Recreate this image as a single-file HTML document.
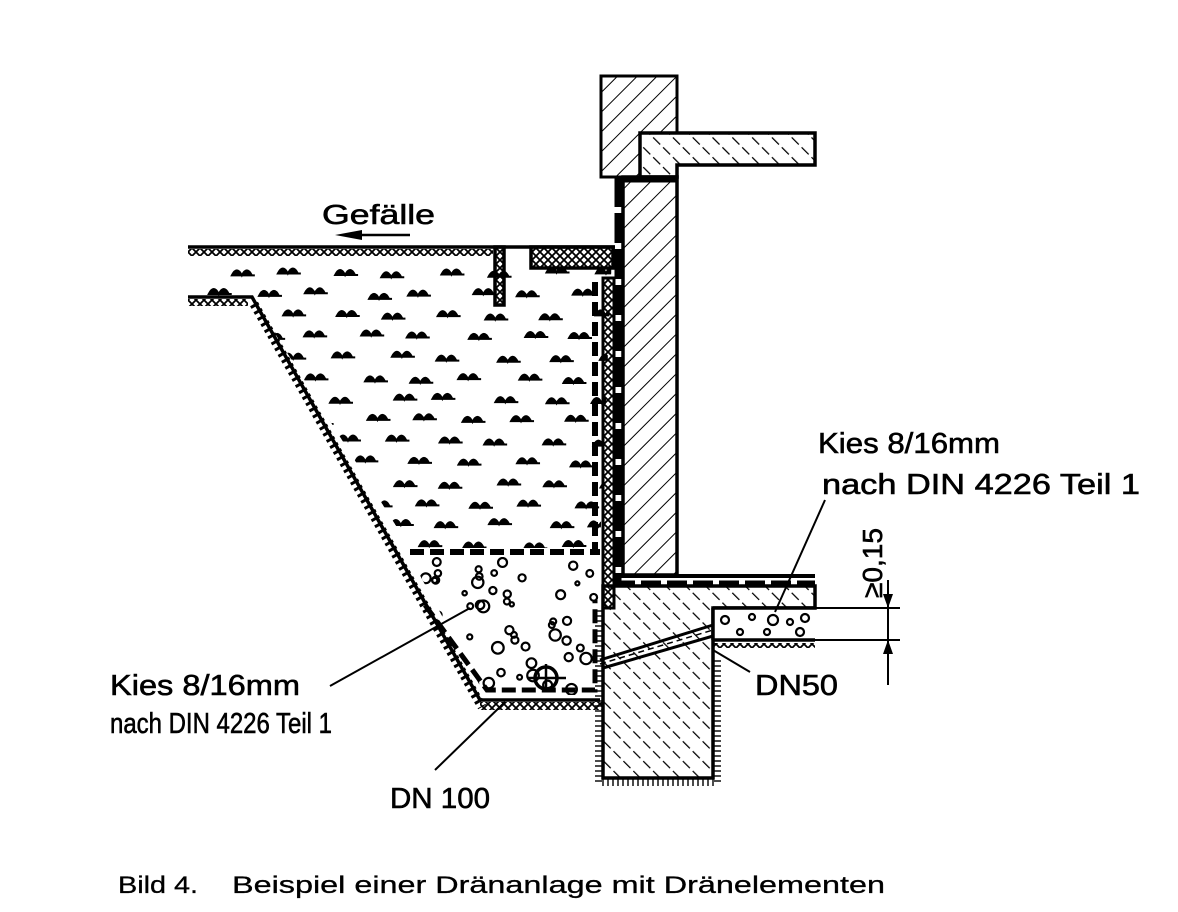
<!DOCTYPE html>
<html><head><meta charset="utf-8"><style>
html,body{margin:0;padding:0;background:#fff;}
svg{display:block}
text{font-family:"Liberation Sans",sans-serif;fill:#000;stroke:#000;stroke-width:0.6}
</style></head><body>
<svg id="s" width="1178" height="912" viewBox="0 0 1178 912" xmlns="http://www.w3.org/2000/svg">
<defs>
<pattern id="h" width="14" height="14" patternUnits="userSpaceOnUse" patternTransform="rotate(45)">
<line x1="0" y1="0" x2="0" y2="14" stroke="#000" stroke-width="2"/></pattern>
<pattern id="h2" width="14" height="14" patternUnits="userSpaceOnUse" patternTransform="rotate(-45)">
<line x1="0" y1="0" x2="0" y2="14" stroke="#000" stroke-width="2.5" stroke-dasharray="9 4"/></pattern>
<pattern id="x" width="8" height="8" patternUnits="userSpaceOnUse">
<path d="M0 0L8 8M8 0L0 8" stroke="#000" stroke-width="1.8"/></pattern>
<clipPath id="soilclip"><polygon points="188,252 612,252 600,548 410,548 252,297 188,297"/></clipPath>
<clipPath id="gravclip"><polygon points="410,557 600,557 600,695 485,695"/></clipPath>
</defs>

<rect x="601" y="76" width="76" height="101" fill="url(#h)" stroke="#000" stroke-width="3"/>
<path d="M640 133H815V165H677V177H640Z" fill="#fff" stroke="none"/>
<path d="M640 133H815V165H677V177H640Z" fill="url(#h2)" stroke="#000" stroke-width="3.5"/>
<rect x="623" y="177" width="54" height="398" fill="url(#h)" stroke="#000" stroke-width="3.5"/>
<line x1="618" y1="177" x2="618" y2="585" stroke="#000" stroke-width="7" stroke-dasharray="30 6"/>
<line x1="615" y1="180" x2="677" y2="180" stroke="#000" stroke-width="5"/>
<line x1="615" y1="576" x2="815" y2="576" stroke="#000" stroke-width="4"/>
<line x1="615" y1="583" x2="815" y2="583" stroke="#000" stroke-width="5" stroke-dasharray="20 6"/>
<path d="M603 586H815V608H713V778H603Z" fill="url(#h2)" stroke="#000" stroke-width="3.5"/>
<path d="M599 610V782H717V660" fill="none" stroke="#000" stroke-width="8" stroke-dasharray="2 3" opacity="0.7"/>
<rect x="713" y="608" width="102" height="32" fill="#fff" stroke="none"/>
<line x1="713" y1="608" x2="815" y2="608" stroke="#000" stroke-width="3.5"/>
<line x1="713" y1="608" x2="713" y2="640" stroke="#000" stroke-width="3.5"/>
<line x1="713" y1="640" x2="815" y2="640" stroke="#000" stroke-width="3.5"/>
<rect x="713" y="643" width="102" height="5" fill="url(#x)"/>
<g fill="none" stroke="#000" stroke-width="2.2">
<circle cx="725" cy="620" r="4"/><circle cx="752" cy="617" r="3"/><circle cx="773" cy="620" r="5"/><circle cx="790" cy="622" r="3"/><circle cx="805" cy="618" r="4"/><circle cx="740" cy="632" r="3"/><circle cx="767" cy="632" r="3"/><circle cx="800" cy="632" r="4"/></g>
<path d="M600 660L713 625M603 668L713 636" stroke="#000" stroke-width="3" fill="none"/>
<path d="M600 664L713 630" stroke="#000" stroke-width="1.5" stroke-dasharray="6 4"/>
<line x1="188" y1="247" x2="615" y2="247" stroke="#000" stroke-width="3.5"/>
<rect x="188" y="249" width="305" height="7" fill="url(#x)"/>
<path d="M188 297H252L480 700H600" fill="none" stroke="#000" stroke-width="3.5"/>
<rect x="188" y="299" width="60" height="7" fill="url(#x)"/>
<path d="M254 304L482 707" stroke="#000" stroke-width="9" stroke-dasharray="3 4" fill="none"/>
<rect x="480" y="702" width="123" height="8" fill="url(#x)"/>
<rect x="495" y="247" width="9" height="58" fill="url(#x)" stroke="#000" stroke-width="3.5"/>
<rect x="531" y="247" width="82" height="21" fill="url(#x)" stroke="#000" stroke-width="3.5"/>
<line x1="595" y1="282" x2="595" y2="555" stroke="#000" stroke-width="6" stroke-dasharray="14 6"/>
<rect x="603" y="278" width="11" height="330" fill="url(#x)" stroke="#000" stroke-width="3"/>
<line x1="410" y1="552" x2="600" y2="552" stroke="#000" stroke-width="6" stroke-dasharray="14 6"/>
<path d="M425 605L487 690H595V600" fill="none" stroke="#000" stroke-width="5" stroke-dasharray="14 6"/>
<circle cx="546" cy="678" r="11" fill="none" stroke="#000" stroke-width="3.5"/>
<path d="M528 678H566M546 664V692" stroke="#000" stroke-width="2.5"/>
<g id="soil" clip-path="url(#soilclip)"></g>
<g id="grav" clip-path="url(#gravclip)" fill="none" stroke="#000" stroke-width="2.2"></g>
<path d="M330 686L470 608" stroke="#000" stroke-width="2"/>
<path d="M435 770L505 702" stroke="#000" stroke-width="2"/>
<path d="M750 672L713 650" stroke="#000" stroke-width="2"/>
<path d="M825 500L775 612" stroke="#000" stroke-width="2"/>
<line x1="815" y1="608" x2="900" y2="608" stroke="#000" stroke-width="2"/>
<line x1="815" y1="640" x2="900" y2="640" stroke="#000" stroke-width="2"/>
<line x1="888" y1="580" x2="888" y2="685" stroke="#000" stroke-width="2"/>
<path d="M883 594L888 608L893 594Z M883 654L888 640L893 654Z"/>
<text x="0" y="0" font-size="28" textLength="70" lengthAdjust="spacingAndGlyphs" transform="translate(882,598) rotate(-90)">≥0,15</text>
<text x="322" y="224" font-size="28" textLength="113" lengthAdjust="spacingAndGlyphs">Gefälle</text>
<line x1="345" y1="235" x2="410" y2="235" stroke="#000" stroke-width="2.5"/>
<path d="M335 235L362 230L362 240Z"/>
<text x="818" y="453" font-size="29" textLength="182" lengthAdjust="spacingAndGlyphs">Kies 8/16mm</text>
<text x="822" y="494" font-size="29" textLength="318" lengthAdjust="spacingAndGlyphs">nach DIN 4226 Teil 1</text>
<text x="110" y="695" font-size="29" textLength="190" lengthAdjust="spacingAndGlyphs">Kies 8/16mm</text>
<text x="110" y="733" font-size="29" textLength="222" lengthAdjust="spacingAndGlyphs">nach DIN 4226 Teil 1</text>
<text x="755" y="695" font-size="29" textLength="83" lengthAdjust="spacingAndGlyphs">DN50</text>
<text x="390" y="808" font-size="29" textLength="100" lengthAdjust="spacingAndGlyphs">DN 100</text>
<text x="118" y="893" font-size="24" textLength="80" lengthAdjust="spacingAndGlyphs" style="stroke-width:0.3">Bild 4.</text>
<text x="232" y="893" font-size="24" textLength="653" lengthAdjust="spacingAndGlyphs" style="stroke-width:0.3">Beispiel einer Dränanlage mit Dränelementen</text>
</svg>
<script>
var ns="http://www.w3.org/2000/svg",s=document.getElementById("soil"),g=document.getElementById("grav");
var seed=7;function r(){seed=(seed*9301+49297)%233280;return seed/233280;}
for(var y=272;y<550;y+=21){var off=(Math.round(y/21)%2)*26;for(var x=200+off;x<600;x+=52){
var px=x+r()*16,py=y+r()*6;var p=document.createElementNS(ns,"path");
p.setAttribute("d","M"+(px-2)+" "+py+"q5-10 10 0q5-10 10 0h3z");p.setAttribute("fill","#000");p.setAttribute("stroke","#000");p.setAttribute("stroke-width","2");s.appendChild(p);}}
for(var i=0;i<55;i++){var c=document.createElementNS(ns,"circle");c.setAttribute("cx",420+r()*180);c.setAttribute("cy",562+r()*128);c.setAttribute("r",2+r()*4);g.appendChild(c);}
</script>
</body></html>
